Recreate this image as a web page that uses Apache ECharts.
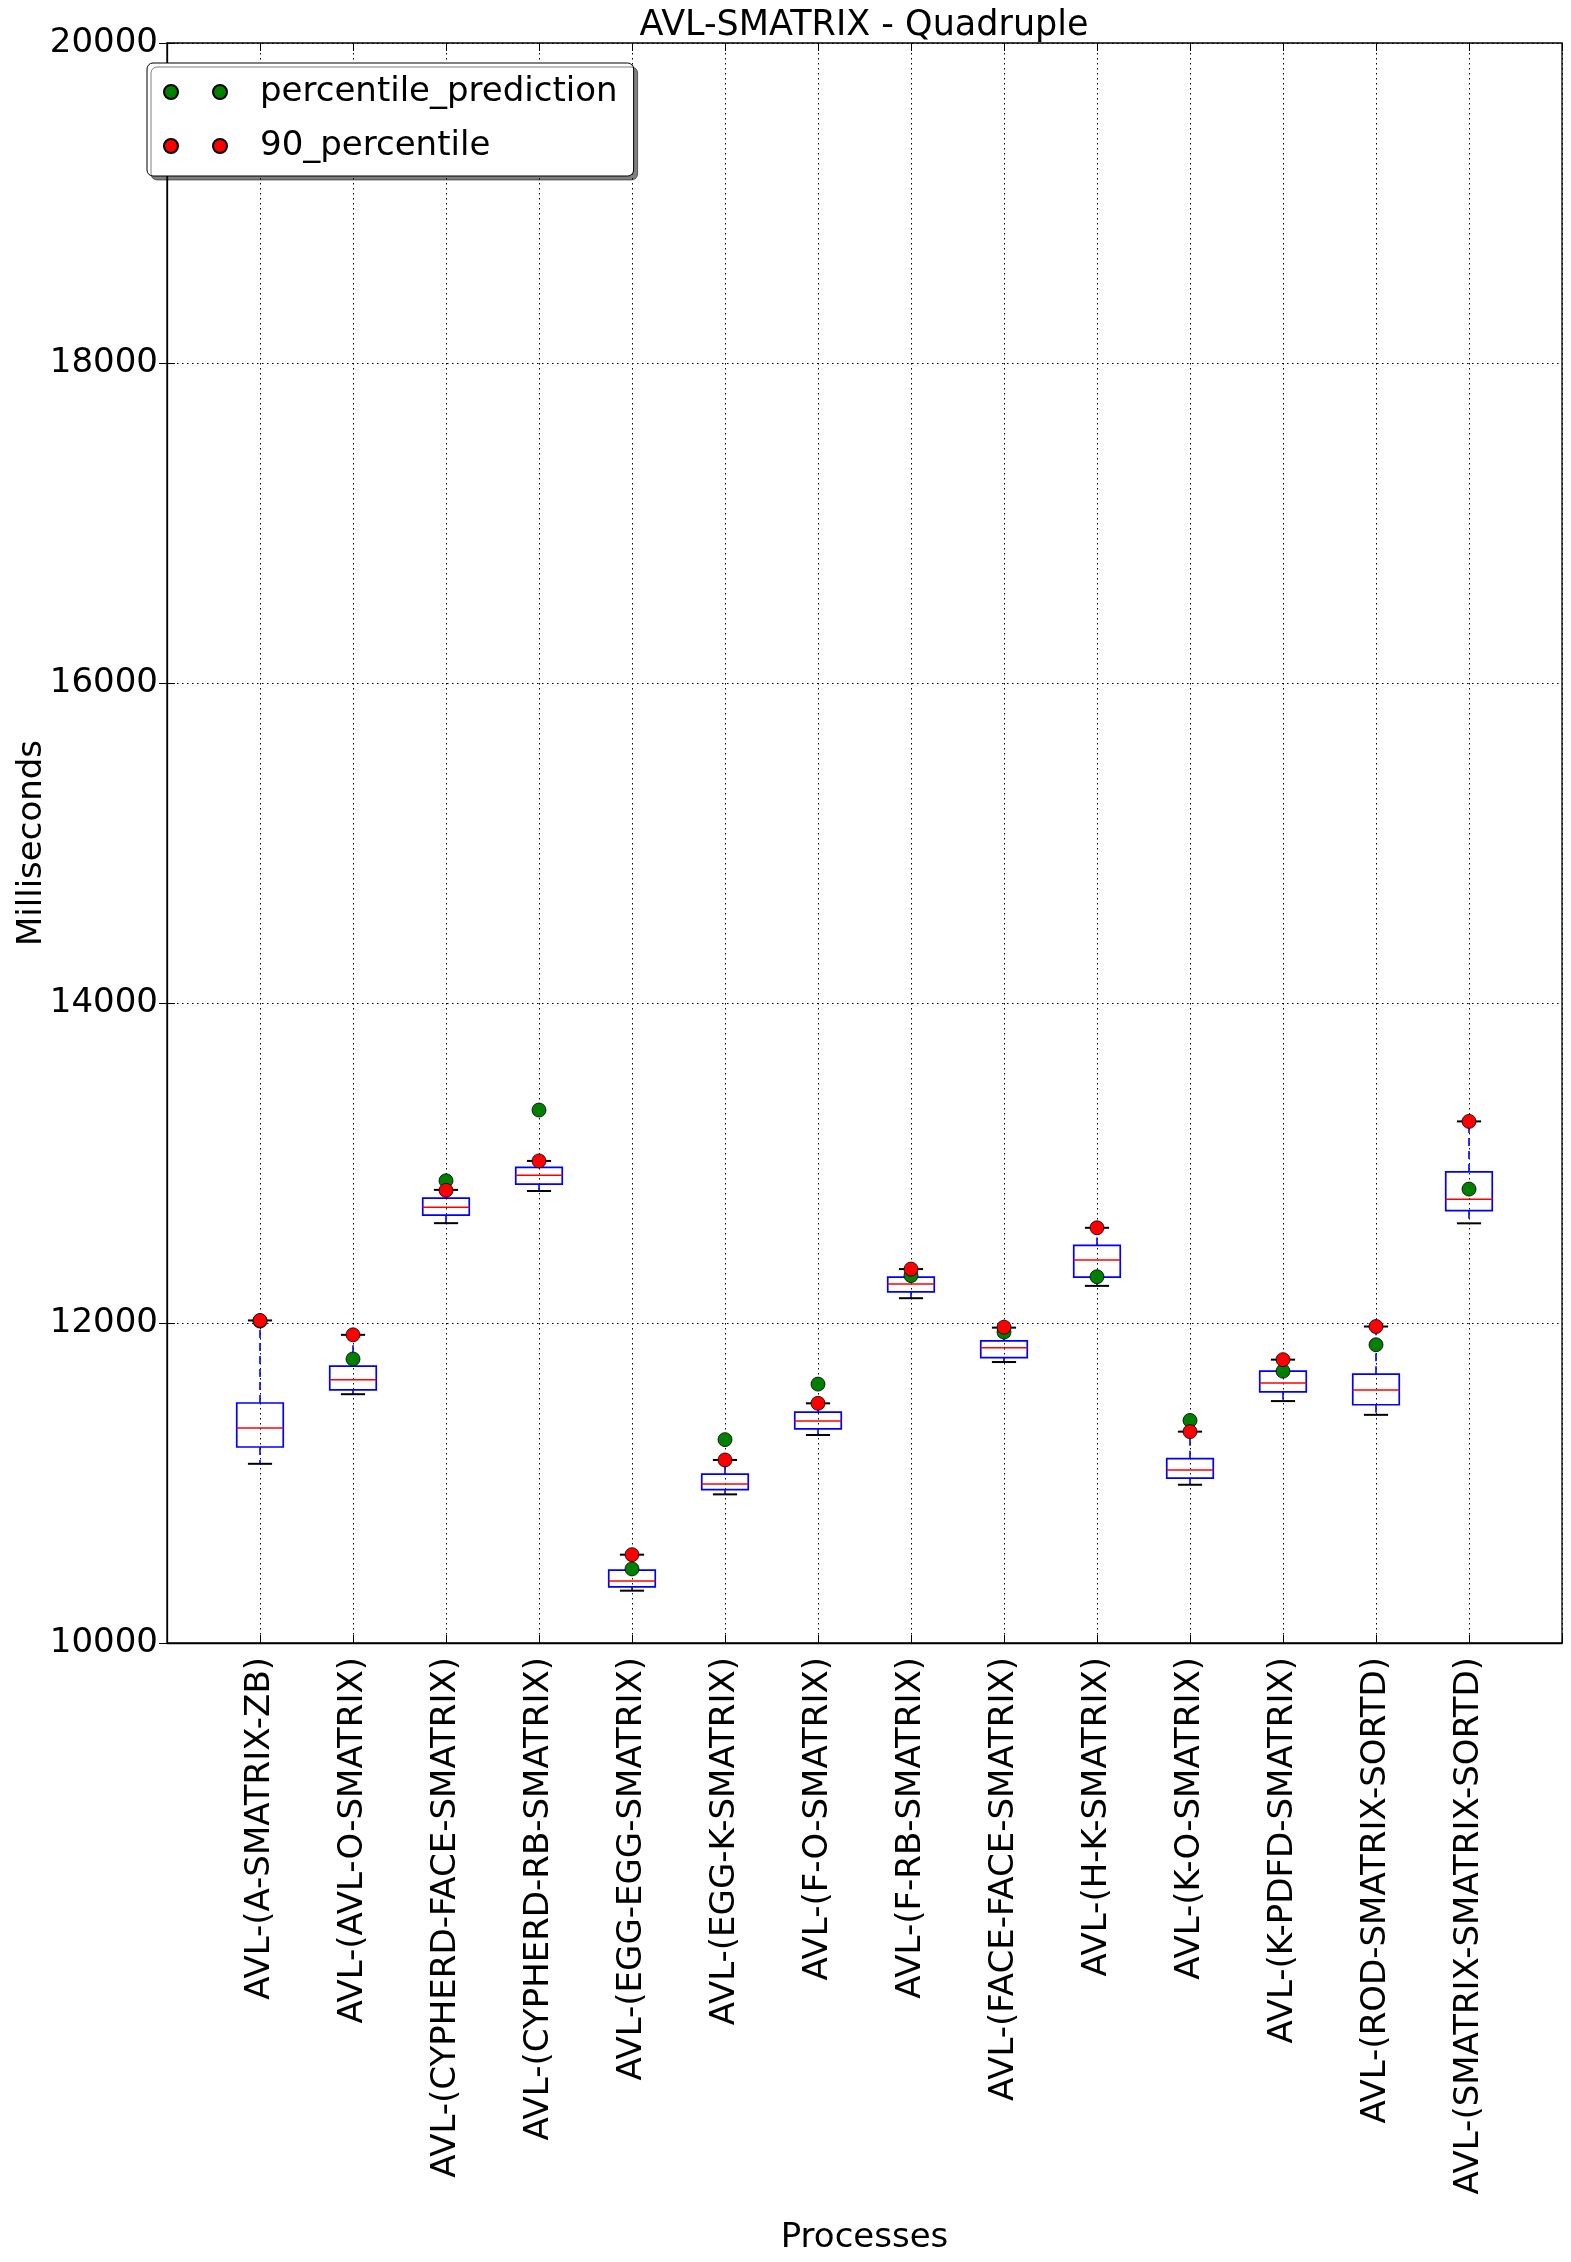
<!DOCTYPE html>
<html>
<head>
<meta charset="utf-8">
<title>AVL-SMATRIX - Quadruple</title>
<script src="https://cdn.jsdelivr.net/npm/echarts@6/dist/echarts.min.js"></script>
<style>
  html, body { margin: 0; padding: 0; background: #fff; }
  #chart { width: 1571px; height: 2262px; }
</style>
</head>
<body>
<div id="chart"></div>
<script>
// process names, one box per process (x positions 1..14)
var processes = [
  "AVL-(A-SMATRIX-ZB)",
  "AVL-(AVL-O-SMATRIX)",
  "AVL-(CYPHERD-FACE-SMATRIX)",
  "AVL-(CYPHERD-RB-SMATRIX)",
  "AVL-(EGG-EGG-SMATRIX)",
  "AVL-(EGG-K-SMATRIX)",
  "AVL-(F-O-SMATRIX)",
  "AVL-(F-RB-SMATRIX)",
  "AVL-(FACE-FACE-SMATRIX)",
  "AVL-(H-K-SMATRIX)",
  "AVL-(K-O-SMATRIX)",
  "AVL-(K-PDFD-SMATRIX)",
  "AVL-(ROD-SMATRIX-SORTD)",
  "AVL-(SMATRIX-SMATRIX-SORTD)"
];

// box plot statistics (ms)
var whiskerLow  = [11120, 11555, 12624, 12825, 10327, 10929, 11300, 12155, 11756, 12232, 10989, 11512, 11426, 12623];
var quartile1   = [11225, 11582, 12674, 12868, 10351, 10958, 11338, 12194, 11783, 12287, 11030, 11570, 11489, 12702];
var medians     = [11344, 11646, 12724, 12923, 10387, 10994, 11388, 12244, 11845, 12394, 11082, 11625, 11582, 12773];
var quartile3   = [11500, 11730, 12781, 12973, 10456, 11056, 11443, 12287, 11888, 12485, 11152, 11699, 11680, 12944];
var whiskerHigh = [12016, 11926, 12832, 13013, 10552, 11144, 11498, 12337, 11971, 12595, 11321, 11771, 11978, 13260];

// markers
var percentilePrediction = [12012, 11775, 12889, 13331, 10463, 11271, 11618, 12296, 11943, 12289, 11391, 11699, 11864, 12837];
var percentile90         = [12016, 11926, 12829, 13013, 10552, 11144, 11498, 12337, 11974, 12595, 11321, 11771, 11978, 13260];

var yTicks = [10000, 12000, 14000, 16000, 18000, 20000];

var FONT = "DejaVu Sans";
var BOX_WIDTH = 0.5;
var CAP_WIDTH = 0.26;
var TWO_DOTS = "path://M0,7A7,7,0,1,1,14,7A7,7,0,1,1,0,7ZM49,7A7,7,0,1,1,63,7A7,7,0,1,1,49,7Z";

var boxData = processes.map(function (name, i) {
  return [i + 1, whiskerLow[i], quartile1[i], medians[i], quartile3[i], whiskerHigh[i]];
});
var predData = percentilePrediction.map(function (v, i) { return [i + 1, v]; });
var p90Data = percentile90.map(function (v, i) { return [i + 1, v]; });

function renderBox(params, api) {
  var x = api.value(0);
  var low = api.coord([x, api.value(1)]);
  var q1 = api.coord([x, api.value(2)]);
  var med = api.coord([x, api.value(3)]);
  var q3 = api.coord([x, api.value(4)]);
  var high = api.coord([x, api.value(5)]);
  var halfBox = api.size([BOX_WIDTH, 0])[0] / 2;
  var halfCap = api.size([CAP_WIDTH, 0])[0] / 2;
  var whisker = { stroke: "#0000ff", lineWidth: 1.6, lineDash: [8, 5], fill: null };
  var cap = { stroke: "#000", lineWidth: 2, fill: null };
  return {
    type: "group",
    children: [
      { type: "line", shape: { x1: q3[0], y1: q3[1], x2: high[0], y2: high[1] }, style: whisker },
      { type: "line", shape: { x1: q1[0], y1: q1[1], x2: low[0], y2: low[1] }, style: whisker },
      { type: "line", shape: { x1: high[0] - halfCap, y1: high[1], x2: high[0] + halfCap, y2: high[1] }, style: cap },
      { type: "line", shape: { x1: low[0] - halfCap, y1: low[1], x2: low[0] + halfCap, y2: low[1] }, style: cap },
      {
        type: "rect",
        shape: { x: q3[0] - halfBox, y: q3[1], width: halfBox * 2, height: q1[1] - q3[1] },
        style: { fill: "none", stroke: "#0000ff", lineWidth: 1.7 }
      },
      { type: "line", shape: { x1: med[0] - halfBox, y1: med[1], x2: med[0] + halfBox, y2: med[1] }, style: { stroke: "#ff0000", lineWidth: 1.5 } }
    ]
  };
}

var chart = echarts.init(document.getElementById("chart"));

chart.setOption({
  animation: false,
  backgroundColor: "#fff",
  textStyle: { fontFamily: FONT, color: "#000" },
  title: {
    text: "AVL-SMATRIX - Quadruple",
    left: 864,
    textAlign: "center",
    top: 0,
    padding: [8, 0, 0, 0],
    textStyle: { fontFamily: FONT, fontSize: 35, fontWeight: "normal", color: "#000" }
  },
  legend: {
    orient: "vertical",
    left: 147,
    top: 63,
    padding: [9, 16, 10, 16],
    itemGap: 14,
    itemWidth: 63,
    itemHeight: 14,
    backgroundColor: "#fff",
    borderColor: "#000",
    borderWidth: 1,
    borderRadius: 6,
    shadowColor: "rgba(0,0,0,0.5)",
    shadowBlur: 0,
    shadowOffsetX: 4,
    shadowOffsetY: 4,
    textStyle: { fontFamily: FONT, fontSize: 34, lineHeight: 40, color: "#000", padding: [0, 0, 0, 28] },
    data: [
      { name: "percentile_prediction", icon: TWO_DOTS },
      { name: "90_percentile", icon: TWO_DOTS }
    ]
  },
  grid: {
    left: 167,
    right: 9,
    top: 43,
    bottom: 619,
    outerBoundsMode: "none",
    show: true,
    borderColor: "#000",
    borderWidth: 1.3,
    backgroundColor: "#fff"
  },
  xAxis: [
    {
      type: "value",
      min: 0,
      max: 15,
      interval: 1,
      name: "Processes",
      nameLocation: "middle",
      nameGap: 578,
      nameMoveOverlap: false,
      nameTextStyle: { fontFamily: FONT, fontSize: 34, color: "#000" },
      axisLine: { show: true, lineStyle: { color: "#000", width: 1.3 } },
      axisTick: { show: true, inside: true, length: 8, lineStyle: { color: "#000" } },
      axisLabel: {
        rotate: 90,
        margin: 14,
        fontFamily: FONT,
        fontSize: 34,
        color: "#000",
        formatter: function (v) { return processes[v - 1] || ""; }
      },
      splitLine: { show: true, lineStyle: { color: "#000", width: 1, type: [1.5, 3.5] } }
    },
    {
      type: "value",
      position: "top",
      min: 0,
      max: 15,
      interval: 1,
      axisLine: { show: false },
      axisTick: { show: true, inside: true, length: 8, lineStyle: { color: "#000" } },
      axisLabel: { show: false },
      splitLine: { show: false }
    }
  ],
  yAxis: [
    {
      type: "value",
      min: yTicks[0],
      max: yTicks[yTicks.length - 1],
      interval: yTicks[1] - yTicks[0],
      name: "Milliseconds",
      nameLocation: "middle",
      nameGap: 118,
      nameRotate: 90,
      nameMoveOverlap: false,
      nameTextStyle: { fontFamily: FONT, fontSize: 34, color: "#000" },
      axisLine: { show: true, lineStyle: { color: "#000", width: 1.3 } },
      axisTick: { show: true, inside: true, length: 8, lineStyle: { color: "#000" } },
      axisLabel: {
        margin: 9,
        fontFamily: FONT,
        fontSize: 34,
        color: "#000",
        formatter: function (v) { return String(v); }
      },
      splitLine: { show: true, lineStyle: { color: "#000", width: 1, type: [1.5, 3.5] } }
    },
    {
      type: "value",
      position: "right",
      min: yTicks[0],
      max: yTicks[yTicks.length - 1],
      interval: yTicks[1] - yTicks[0],
      axisLine: { show: false },
      axisTick: { show: true, inside: true, length: 8, lineStyle: { color: "#000" } },
      axisLabel: { show: false },
      splitLine: { show: false }
    }
  ],
  series: [
    {
      name: "boxes",
      type: "custom",
      renderItem: renderBox,
      encode: { x: 0, y: [1, 2, 3, 4, 5] },
      data: boxData,
      z: 2
    },
    {
      name: "percentile_prediction",
      type: "scatter",
      symbol: "circle",
      symbolSize: 14,
      itemStyle: { color: "#008000", opacity: 1, borderColor: "#000", borderWidth: 0.8 },
      data: predData,
      z: 3
    },
    {
      name: "90_percentile",
      type: "scatter",
      symbol: "circle",
      symbolSize: 14,
      itemStyle: { color: "#ff0000", opacity: 1, borderColor: "#000", borderWidth: 0.8 },
      data: p90Data,
      z: 4
    }
  ]
});

window.addEventListener("resize", function () {
  chart.resize();
});
</script>
</body>
</html>
